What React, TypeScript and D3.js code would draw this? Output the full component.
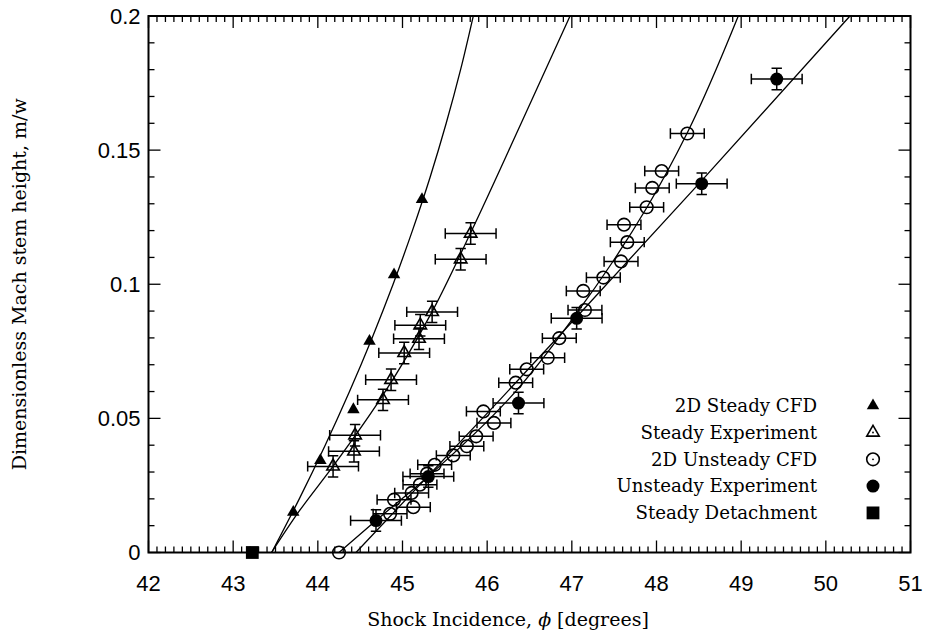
import React from 'react';
import * as d3 from 'd3';

// ---- axes ----
const xTicks = [42, 43, 44, 45, 46, 47, 48, 49, 50, 51];
const yTicks = [0, 0.05, 0.1, 0.15, 0.2];
const yTickLabels = ['0', '0.05', '0.1', '0.15', '0.2'];

// ---- 2D steady CFD (filled triangles) ----
const steadyCfdPhi = [43.71, 44.03, 44.42, 44.61, 44.9, 45.23];
const steadyCfdM = [0.015, 0.0343, 0.0533, 0.0788, 0.1036, 0.1316];

// ---- steady experiment (open triangles, x/y error bars) ----
const steadyExpPhi = [44.18, 44.427, 44.44, 44.77, 44.865, 45.02, 45.195, 45.21, 45.35, 45.687, 45.805];
const steadyExpM = [0.0321, 0.0377, 0.0437, 0.0569, 0.0644, 0.0744, 0.0797, 0.0847, 0.0897, 0.1093, 0.1189];
const steadyExpPhiErr = 0.3;
const steadyExpMErr = 0.004;

// ---- 2D unsteady CFD (open circles, x error bars) ----
const unsteadyCfdPhi = [
  44.25, 44.853, 44.9, 45.128, 45.108, 45.206, 45.29, 45.38, 45.6, 45.76, 45.87, 45.955, 46.08,
  46.337, 46.467, 46.715, 46.852, 47.155, 47.135, 47.372, 47.581, 47.655, 47.616, 47.884, 47.95,
  48.061, 48.364,
];
const unsteadyCfdM = [
  0, 0.0144, 0.0197, 0.0169, 0.0222, 0.0253, 0.0294, 0.0327, 0.0362, 0.0396, 0.0433, 0.0526, 0.0483,
  0.0633, 0.0683, 0.0726, 0.0799, 0.0904, 0.0975, 0.1025, 0.1085, 0.1157, 0.1222, 0.1287, 0.1359,
  0.1422, 0.1562,
];
const unsteadyCfdPhiErr = [
  0, 0.2, 0.2, 0.2, 0.2, 0.2, 0.2, 0.2, 0.2, 0.2, 0.2, 0.2, 0.2,
  0.2, 0.2, 0.2, 0.2, 0.2, 0.2, 0.2, 0.2, 0.2, 0.2, 0.2, 0.2,
  0.2, 0.2,
];

// ---- unsteady experiment (filled circles, x/y error bars) ----
const unsteadyExpPhi = [44.687, 45.305, 46.37, 47.057, 48.534, 49.42];
const unsteadyExpM = [0.0119, 0.0283, 0.0557, 0.0873, 0.1375, 0.1765];
const unsteadyExpPhiErr = 0.3;
const unsteadyExpMErr = 0.004;

// ---- steady detachment ----
const detachPhi = [43.226];
const detachM = [0];

// ---- fitted curves ----
const steadyCfdFitPhi = [43.455, 43.781, 44.087, 44.374, 44.641, 44.889, 45.117, 45.327, 45.516, 45.686, 45.836];
const steadyCfdFitM = [0, 0.02, 0.04, 0.06, 0.08, 0.1, 0.12, 0.14, 0.16, 0.18, 0.2];

const steadyExpFitPhi = [43.453, 43.777, 44.183, 44.734, 45.352, 45.805, 46.407, 46.979];
const steadyExpFitM = [0, 0.0153, 0.0323, 0.057, 0.0899, 0.1192, 0.1604, 0.2];

const unsteadyCfdFitPhi = [44.25, 44.687, 45.289, 46.249, 47.057, 47.479, 47.888, 48.364, 48.966];
const unsteadyCfdFitM = [0, 0.0119, 0.028, 0.057, 0.0892, 0.1082, 0.1287, 0.1565, 0.2];

const unsteadyExpFitPhi = [44.451, 46.152, 47.097, 48.502, 50.285];
const unsteadyExpFitM = [0, 0.057, 0.0892, 0.1375, 0.2];

// ---- legend ----
const legendLabels = [
  '2D Steady CFD',
  'Steady Experiment',
  '2D Unsteady CFD',
  'Unsteady Experiment',
  'Steady Detachment',
];
const legendKinds = ['triFilled', 'triOpen', 'circOpen', 'circFilled', 'square'];

const W = 930;
const H = 636;
const PLOT = { left: 148.5, right: 910.5, top: 16, bottom: 552.5 };
const SERIF = '"DejaVu Serif", serif';
const SANS = '"Liberation Sans", Arial, sans-serif';

const zip = (a: number[], b: number[]) => a.map((v, i) => [v, b[i]] as [number, number]);

function triPath(cx: number, cy: number, side: number) {
  const h = (side * Math.sqrt(3)) / 2;
  return `M${cx},${cy - (2 * h) / 3}L${cx + side / 2},${cy + h / 3}L${cx - side / 2},${cy + h / 3}Z`;
}

function Marker({ kind, cx, cy, dot }: { kind: string; cx: number; cy: number; dot?: boolean }) {
  const sw = 1.6;
  if (kind === 'triFilled') return <path d={triPath(cx, cy, 12.5)} fill="#000" />;
  if (kind === 'triOpen')
    return (
      <g>
        <path d={triPath(cx, cy, 12.5)} fill="none" stroke="#000" strokeWidth={sw} />
        {dot && <circle cx={cx} cy={cy} r={0.9} fill="#000" />}
      </g>
    );
  if (kind === 'circOpen')
    return (
      <g>
        <circle cx={cx} cy={cy} r={6.3} fill="none" stroke="#000" strokeWidth={sw} />
        {dot && <circle cx={cx} cy={cy} r={0.9} fill="#000" />}
      </g>
    );
  if (kind === 'circFilled') return <circle cx={cx} cy={cy} r={6.5} fill="#000" />;
  return <rect x={cx - 6.4} y={cy - 6.4} width={12.8} height={12.8} fill="#000" />;
}

function ErrX({ x0, x1, y }: { x0: number; x1: number; y: number }) {
  return (
    <path
      d={`M${x0},${y}H${x1}M${x0},${y - 5.2}V${y + 5.2}M${x1},${y - 5.2}V${y + 5.2}`}
      stroke="#000"
      strokeWidth={1.5}
      fill="none"
    />
  );
}

function ErrY({ x, y0, y1 }: { x: number; y0: number; y1: number }) {
  return (
    <path
      d={`M${x},${y0}V${y1}M${x - 5.2},${y0}H${x + 5.2}M${x - 5.2},${y1}H${x + 5.2}`}
      stroke="#000"
      strokeWidth={1.5}
      fill="none"
    />
  );
}

export default function App() {
  const x = d3.scaleLinear().domain([42, 51]).range([PLOT.left, PLOT.right]);
  const y = d3.scaleLinear().domain([0, 0.2]).range([PLOT.bottom, PLOT.top]);

  const line = d3
    .line<[number, number]>()
    .x((d) => x(d[0]))
    .y((d) => y(d[1]))
    .curve(d3.curveMonotoneY);

  const xMinor = d3.range(0, 91).map((i) => 42 + i / 10);
  const yMinor = d3.range(0, 21).map((i) => i / 100);

  const curves = [
    zip(steadyCfdFitPhi, steadyCfdFitM),
    zip(steadyExpFitPhi, steadyExpFitM),
    zip(unsteadyCfdFitPhi, unsteadyCfdFitM),
    zip(unsteadyExpFitPhi, unsteadyExpFitM),
  ];

  const legendY0 = 405.7;
  const legendDy = 26.8;

  return (
    <svg
      width={W}
      height={H}
      viewBox={`0 0 ${W} ${H}`}
      style={{ position: 'absolute', left: 0, top: 0, background: '#fff' }}
    >
      <rect x={0} y={0} width={W} height={H} fill="#fff" />

      {/* ticks, drawn inward on all four sides */}
      <g stroke="#000" strokeWidth={1.3}>
        {xMinor.map((v, i) => {
          const major = i % 10 === 0;
          const len = major ? 12 : 6;
          const px = x(v);
          return (
            <g key={'xm' + i}>
              <line x1={px} x2={px} y1={PLOT.bottom} y2={PLOT.bottom - len} />
              <line x1={px} x2={px} y1={PLOT.top} y2={PLOT.top + len} />
            </g>
          );
        })}
        {yMinor.map((v, i) => {
          const major = i % 5 === 0;
          const len = major ? 12 : 6;
          const py = y(v);
          return (
            <g key={'ym' + i}>
              <line x1={PLOT.left} x2={PLOT.left + len} y1={py} y2={py} />
              <line x1={PLOT.right} x2={PLOT.right - len} y1={py} y2={py} />
            </g>
          );
        })}
      </g>

      {/* tick labels */}
      <g fontFamily={SANS} fontSize={22} fill="#000">
        {xTicks.map((t) => (
          <text key={'xt' + t} x={x(t)} y={591} textAnchor="middle">
            {t}
          </text>
        ))}
        {yTicks.map((t, i) => (
          <text key={'yt' + t} x={PLOT.left - 8} y={y(t)} dy="0.36em" textAnchor="end">
            {yTickLabels[i]}
          </text>
        ))}
      </g>

      {/* axis titles */}
      <text x={508} y={626} textAnchor="middle" fontFamily={SERIF} fontSize={19}>
        Shock Incidence, <tspan fontStyle="italic">ϕ</tspan> [degrees]
      </text>
      <text
        transform={`translate(26,${(PLOT.top + PLOT.bottom) / 2}) rotate(-90)`}
        textAnchor="middle"
        fontFamily={SERIF}
        fontSize={19}
      >
        Dimensionless Mach stem height, m/w
      </text>

      {/* fitted curves */}
      <g fill="none" stroke="#000" strokeWidth={1.3}>
        {curves.map((c, i) => (
          <path key={'c' + i} d={line(c) || ''} />
        ))}
      </g>

      {/* steady experiment error bars + markers */}
      {steadyExpPhi.map((p, i) => (
        <g key={'se' + i}>
          <ErrX x0={x(p - steadyExpPhiErr)} x1={x(p + steadyExpPhiErr)} y={y(steadyExpM[i])} />
          <ErrY x={x(p)} y0={y(steadyExpM[i] - steadyExpMErr)} y1={y(steadyExpM[i] + steadyExpMErr)} />
          <Marker kind="triOpen" cx={x(p)} cy={y(steadyExpM[i])} />
        </g>
      ))}

      {/* unsteady CFD */}
      {unsteadyCfdPhi.map((p, i) => (
        <g key={'uc' + i}>
          {unsteadyCfdPhiErr[i] > 0 && (
            <ErrX
              x0={x(p - unsteadyCfdPhiErr[i])}
              x1={x(p + unsteadyCfdPhiErr[i])}
              y={y(unsteadyCfdM[i])}
            />
          )}
          <Marker kind="circOpen" cx={x(p)} cy={y(unsteadyCfdM[i])} />
        </g>
      ))}

      {/* unsteady experiment */}
      {unsteadyExpPhi.map((p, i) => (
        <g key={'ue' + i}>
          <ErrX x0={x(p - unsteadyExpPhiErr)} x1={x(p + unsteadyExpPhiErr)} y={y(unsteadyExpM[i])} />
          <ErrY x={x(p)} y0={y(unsteadyExpM[i] - unsteadyExpMErr)} y1={y(unsteadyExpM[i] + unsteadyExpMErr)} />
          <Marker kind="circFilled" cx={x(p)} cy={y(unsteadyExpM[i])} />
        </g>
      ))}

      {/* steady CFD */}
      {steadyCfdPhi.map((p, i) => (
        <Marker key={'sc' + i} kind="triFilled" cx={x(p)} cy={y(steadyCfdM[i])} />
      ))}

      {/* steady detachment */}
      {detachPhi.map((p, i) => (
        <Marker key={'sd' + i} kind="square" cx={x(p)} cy={y(detachM[i])} />
      ))}

      {/* legend */}
      <g fontFamily={SERIF} fontSize={18.2}>
        {legendLabels.map((lab, i) => (
          <g key={'lg' + i}>
            <text x={817} y={legendY0 + i * legendDy} dy="0.35em" textAnchor="end">
              {lab}
            </text>
            <Marker kind={legendKinds[i]} cx={873} cy={legendY0 + i * legendDy} dot />
          </g>
        ))}
      </g>

      {/* frame */}
      <rect
        x={PLOT.left}
        y={PLOT.top}
        width={PLOT.right - PLOT.left}
        height={PLOT.bottom - PLOT.top}
        fill="none"
        stroke="#000"
        strokeWidth={2}
      />
    </svg>
  );
}
